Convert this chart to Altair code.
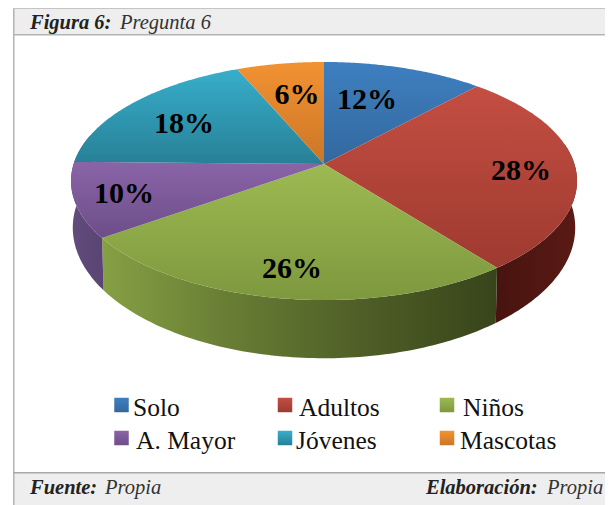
import math
import altair as alt

CATEGORIES = ["Solo", "Adultos", "Niños", "A. Mayor", "Jóvenes", "Mascotas"]
SHARES = [11.8, 27.7, 25.6, 10.2, 18.3, 6.4]
LABELS = ["12%", "28%", "26%", "10%", "18%", "6%"]

FACE = [("#3e7fc0", "#33689e"), ("#c44e42", "#9e3a30"), ("#9cba52", "#7e983e"),
        ("#8a64a8", "#6c4e88"), ("#38aecb", "#278096"), ("#f29232", "#cb7626")]
LABEL_XY = [(367, 109), (521, 180), (292, 278), (124, 203), (184, 133), (297, 104)]
SWATCH_XY = [(121.5, 405), (285, 405), (447, 405), (121.5, 438), (285, 438), (447, 438)]
LEGEND_XY = [(133, 416), (299, 416), (463, 416), (136, 449), (296, 449), (460, 449)]

OX, OY = 8, 8
CX, CY = 324, 164
A, H, K = 250.4, 116.6, 1 / 7
W, H_TOTAL = 597, 497


def top(t):
    u, v = math.sin(t), math.cos(t)
    w = 1 + K * v
    return [CX + A * u / w, CY - H * v / w]


def bottom(t):
    u, v = math.sin(t), math.cos(t)
    w = 1 + K * v
    return [CX + 0.993 * A * u / w, CY + 45 - 1.097 * H * v / w]


def steps(a, b, n=90):
    return [a + (b - a) * i / n for i in range(n + 1)]


def gradient(stops, horizontal=False):
    return alt.LinearGradient(
        gradient="linear", x1=0, y1=0, x2=1 if horizontal else 0, y2=0 if horizontal else 1,
        stops=[alt.GradientStop(color=c, offset=o) for o, c in stops])


def shape(ring, fill):
    feature = {"type": "Feature", "properties": {},
               "geometry": {"type": "Polygon", "coordinates": [ring + [ring[0]]]}}
    return alt.Chart(alt.Data(values=[feature])).mark_geoshape(
        fill=fill, filled=True, stroke="transparent", strokeWidth=0
    ).project(type="identity", scale=1, translate=[-OX, -OY])


one = alt.Data(values=[{"a": 1}])


def rect(x0, x1, y0, y1, color):
    return alt.Chart(one).mark_rect(color=color).encode(
        x=alt.value(x0 - OX), x2=alt.value(x1 - OX), y=alt.value(y0 - OY), y2=alt.value(y1 - OY))


def text(s, x, y, size, color="#000000", weight="normal", style="normal", align="left"):
    return alt.Chart(one).mark_text(
        text=s, font="Liberation Serif", fontSize=size, color=color, fontWeight=weight,
        fontStyle=style, align=align, baseline="alphabetic"
    ).encode(x=alt.value(x - OX), y=alt.value(y - OY))


cum = [0]
for s in SHARES:
    cum.append(cum[-1] + s)
ang = [c / 100 * 2 * math.pi for c in cum]

layers = [
    rect(14, 605, 8, 35, "#eeeeee"),
    rect(14, 605, 473, 505, "#eeeeee"),
    rect(13, 14.5, 8, 505, "#b4b4b4"),
    rect(13, 605, 8, 9, "#c4c4c4"),
    rect(13, 605, 34, 35.5, "#b4b4b4"),
    rect(13, 605, 472, 473.5, "#a8a8a8"),
]

# side walls (front slices only)
walls = [
    (math.radians(80), ang[2], [(0, "#47140f"), (1, "#5a1a15")]),
    (ang[2], ang[3], [(0, "#86a044"), (0.3, "#6a7f35"), (0.65, "#4f5f27"), (1, "#38441a")]),
    (ang[3], math.radians(285), [(0, "#624c7e"), (1, "#5a4472")]),
]
for t0, t1, stops in walls:
    ts = steps(t0, t1)
    ring = [top(t) for t in ts] + [bottom(t) for t in reversed(ts)]
    layers.append(shape(ring, gradient(stops, horizontal=True)))

# top faces
for i, (c0, c1) in enumerate(FACE):
    ring = [[CX, CY]] + [top(t) for t in steps(ang[i], ang[i + 1])]
    layers.append(shape(ring, gradient([(0, c0), (1, c1)])))

for lab, (x, y) in zip(LABELS, LABEL_XY):
    layers.append(text(lab, x, y, 30, weight="bold", align="center"))

for (c0, c1), (x, y) in zip(FACE, SWATCH_XY):
    layers.append(alt.Chart(one).mark_square(
        size=210, fill=gradient([(0, c0), (1, c1)]), filled=True, opacity=1, stroke="transparent"
    ).encode(x=alt.value(x - OX), y=alt.value(y - OY)))
for cat, (x, y) in zip(CATEGORIES, LEGEND_XY):
    layers.append(text(cat, x, y, 25.5, color="#111111"))

layers += [
    text("Figura 6:", 30, 29, 20.5, color="#222222", weight="bold", style="italic"),
    text("Pregunta 6", 120, 29, 20.5, color="#333333", style="italic"),
    text("Fuente:", 30, 494, 20.5, color="#222222", weight="bold", style="italic"),
    text("Propia", 105, 494, 20.5, color="#333333", style="italic"),
    text("Elaboración:", 426, 494, 20.5, color="#222222", weight="bold", style="italic"),
    text("Propia", 547, 494, 20.5, color="#333333", style="italic"),
]

chart = alt.layer(*layers).properties(
    width=W, height=H_TOTAL, padding=0, background="white"
).configure_view(stroke=None)

chart.save("out.html", embed_options={"renderer": "svg", "actions": False})
